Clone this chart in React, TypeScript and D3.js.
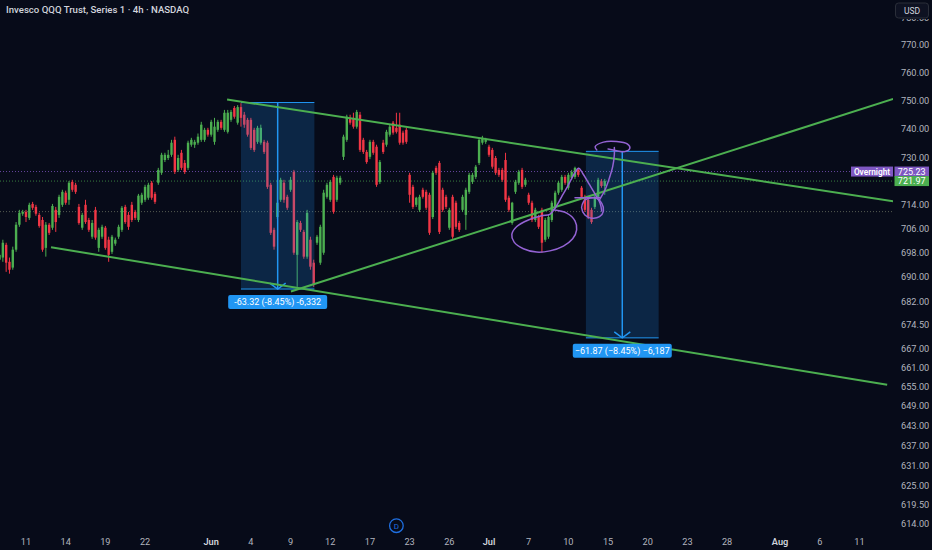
import React from 'react';
import * as d3 from 'd3';

const W = 932;
const H = 550;
const PLOT_R = 893;
const BG = '#070b19';

const title = 'Invesco QQQ Trust, Series 1 · 4h · NASDAQ';

// 4h bars (extended hours, 4 bars per trading day), first bar = May 7 2026 04:00
const firstBarDay = -2; // trading-day index relative to May 11
const barsPerDay = 4;

// [open, high, low, close]
const bars: [number, number, number, number][] = [
  [695.6, 697.9, 694.9, 697.2], [696.3, 702.2, 694.9, 701.2], [700.5, 701.2, 691.6, 694.6], [694.9, 696.3, 691.0, 692.3],
  [693.0, 699.9, 692.3, 698.9], [698.9, 708.1, 698.2, 707.2], [707.2, 712.2, 706.5, 711.2], [710.9, 712.2, 710.2, 711.5],
  [711.5, 712.2, 708.1, 709.8], [709.5, 714.6, 708.8, 713.9], [714.2, 714.9, 712.2, 712.9], [713.2, 713.9, 710.2, 710.9],
  [710.5, 711.2, 706.2, 706.8], [708.8, 709.8, 698.2, 698.9], [699.5, 708.1, 696.6, 707.2], [707.2, 707.8, 703.8, 704.5],
  [706.2, 714.2, 705.5, 713.5], [712.2, 713.2, 704.8, 708.1], [710.5, 717.3, 709.5, 716.6], [713.9, 719.0, 713.2, 718.3],
  [718.0, 718.7, 713.9, 714.6], [715.6, 722.0, 713.9, 721.4], [721.7, 722.4, 718.3, 719.0], [720.7, 721.4, 717.6, 718.3],
  [713.2, 714.2, 707.2, 707.8], [706.2, 711.2, 705.5, 710.5], [713.9, 715.6, 707.5, 708.1], [708.8, 709.5, 704.8, 705.5],
  [703.2, 708.8, 702.5, 707.8], [712.2, 713.2, 702.2, 702.9], [699.5, 706.2, 698.2, 705.5], [703.2, 707.2, 702.5, 706.5],
  [706.2, 706.8, 698.9, 699.5], [702.2, 703.2, 694.9, 697.2], [698.2, 703.8, 697.5, 703.2], [700.9, 702.9, 700.2, 702.2],
  [703.2, 707.2, 702.5, 706.5], [705.5, 713.5, 704.8, 712.9], [713.2, 713.9, 707.5, 708.1], [710.5, 711.5, 705.5, 706.5],
  [713.9, 714.9, 708.1, 708.8], [711.5, 712.2, 708.8, 709.5], [708.8, 717.6, 708.1, 717.0], [714.6, 718.0, 713.9, 717.3],
  [715.6, 720.7, 714.9, 720.0], [716.3, 721.4, 715.6, 720.7], [721.4, 722.0, 715.6, 716.3], [717.6, 718.3, 714.2, 714.9],
  [721.4, 726.5, 720.7, 725.8], [724.8, 731.7, 724.1, 731.0], [729.2, 731.7, 728.5, 731.0], [729.9, 732.7, 729.2, 731.0],
  [731.0, 736.2, 730.3, 735.2], [736.2, 737.3, 724.4, 725.1], [725.8, 731.0, 725.1, 729.9], [731.7, 732.7, 725.8, 726.5],
  [728.2, 729.2, 724.4, 725.1], [726.5, 735.9, 725.8, 735.2], [734.5, 736.9, 733.8, 736.2], [734.5, 736.2, 733.4, 735.5],
  [735.2, 738.4, 734.5, 737.3], [736.2, 742.5, 735.5, 741.5], [736.2, 740.4, 735.5, 739.7], [739.7, 740.4, 737.3, 738.0],
  [738.0, 743.2, 737.3, 742.5], [735.5, 743.9, 734.5, 740.8], [739.7, 743.2, 739.0, 742.5], [742.5, 743.2, 739.7, 740.4],
  [739.7, 746.7, 739.0, 745.7], [739.0, 746.7, 738.4, 745.7], [743.2, 746.7, 742.5, 746.0], [747.4, 748.1, 743.6, 744.3],
  [742.2, 748.4, 741.5, 747.7], [747.7, 749.1, 740.8, 743.9], [745.0, 746.0, 740.4, 741.5], [743.2, 743.9, 737.3, 738.0],
  [743.2, 743.9, 732.7, 733.4], [739.7, 740.4, 732.0, 732.7], [735.5, 741.1, 734.8, 740.4], [735.2, 741.5, 734.5, 740.4],
  [735.5, 736.2, 731.3, 732.0], [735.2, 735.9, 719.3, 720.0], [720.7, 721.4, 703.8, 704.5], [705.5, 706.2, 698.9, 699.9],
  [709.8, 722.4, 709.1, 714.6], [715.6, 723.1, 714.9, 722.4], [721.4, 722.4, 714.6, 715.6], [716.6, 717.3, 712.2, 712.9],
  [719.0, 723.4, 718.3, 722.4], [725.1, 725.8, 697.2, 697.9], [697.2, 708.8, 686.7, 708.1], [707.8, 708.5, 704.8, 705.5],
  [704.8, 705.5, 695.9, 696.6], [696.6, 712.2, 695.9, 711.2], [702.2, 703.2, 692.3, 693.3], [694.6, 695.6, 686.7, 687.3],
  [701.2, 703.8, 700.5, 703.2], [694.6, 707.2, 693.9, 706.5], [697.9, 719.0, 697.2, 718.0], [716.6, 721.4, 716.0, 720.7],
  [715.6, 722.4, 714.9, 721.7], [723.4, 724.1, 710.9, 711.5], [715.6, 723.8, 714.9, 723.1], [721.4, 723.8, 720.7, 723.1],
  [730.3, 738.0, 729.2, 737.3], [736.2, 745.0, 735.5, 744.3], [743.9, 745.0, 741.5, 742.2], [743.9, 745.7, 740.1, 740.8],
  [740.8, 746.7, 740.1, 746.0], [745.0, 746.0, 732.0, 732.7], [736.2, 736.9, 731.3, 732.0], [732.0, 732.7, 727.9, 728.5],
  [730.3, 736.2, 729.5, 735.5], [735.5, 736.2, 731.0, 731.7], [733.8, 734.5, 720.0, 720.7], [721.7, 729.2, 721.0, 728.5],
  [735.2, 736.2, 731.3, 732.0], [734.5, 739.7, 733.8, 739.0], [738.0, 741.5, 737.3, 740.8], [742.2, 742.8, 738.0, 738.7],
  [740.4, 745.7, 738.4, 739.0], [741.5, 745.7, 734.5, 735.2], [738.7, 739.4, 734.5, 735.2], [739.7, 740.4, 734.8, 735.5],
  [724.1, 724.8, 714.6, 717.3], [720.0, 720.7, 712.5, 713.2], [713.9, 716.6, 713.2, 716.3], [712.2, 717.3, 711.5, 716.6],
  [719.0, 719.7, 716.0, 716.6], [718.3, 719.0, 712.2, 712.9], [717.3, 718.0, 703.8, 704.5], [709.8, 725.5, 709.1, 724.8],
  [726.5, 727.2, 724.1, 724.8], [728.2, 728.9, 704.1, 704.8], [719.0, 719.7, 711.5, 712.2], [716.6, 717.3, 712.5, 713.2],
  [706.2, 712.9, 705.5, 712.2], [716.6, 717.3, 702.5, 703.2], [714.6, 715.3, 705.8, 706.5], [707.8, 708.5, 704.8, 705.5],
  [712.2, 717.3, 711.5, 716.6], [710.5, 719.7, 705.5, 719.0], [718.3, 724.8, 717.6, 724.1], [721.7, 724.8, 721.0, 724.1],
  [723.4, 727.5, 722.7, 726.9], [728.2, 736.9, 727.5, 736.2], [735.2, 737.6, 734.5, 736.9], [735.5, 736.9, 734.8, 736.2],
  [733.8, 734.5, 730.3, 731.0], [732.7, 733.4, 726.2, 726.9], [729.9, 730.6, 724.1, 724.8], [725.8, 726.5, 723.4, 724.1],
  [725.8, 726.5, 721.7, 722.4], [729.2, 731.7, 714.9, 715.6], [716.3, 717.0, 711.5, 712.2], [707.8, 714.9, 707.2, 714.6],
  [718.3, 722.4, 717.6, 721.7], [721.4, 725.8, 720.7, 725.1], [725.8, 726.5, 719.3, 720.0], [720.7, 723.1, 720.0, 722.4],
  [717.3, 718.0, 713.9, 714.6], [714.6, 715.3, 708.1, 708.8], [708.8, 712.9, 708.1, 712.2], [709.8, 710.5, 705.8, 706.5],
  [712.2, 712.9, 697.9, 701.2], [702.2, 709.5, 701.5, 708.8], [703.2, 710.5, 702.5, 709.8], [708.8, 715.3, 708.1, 714.6],
  [713.2, 718.7, 712.5, 718.0], [718.0, 722.0, 717.3, 721.4], [719.0, 724.1, 718.3, 723.4], [723.4, 724.1, 720.7, 721.4],
  [719.7, 724.8, 719.0, 724.1], [723.1, 725.8, 722.4, 725.1], [723.4, 726.9, 722.7, 726.5], [725.8, 726.5, 723.4, 724.1],
  [719.7, 720.3, 716.0, 716.6], [716.6, 717.3, 711.5, 712.2], [715.6, 716.3, 709.1, 709.8], [712.2, 712.9, 707.5, 708.1],
  [713.2, 717.3, 712.5, 716.6], [716.6, 723.1, 716.0, 722.4], [721.9, 722.7, 719.7, 720.3], [720.3, 722.7, 717.3, 721.97],
];

// x-axis tick labels and their trading-day index (May 11 2026 = 0)
const xTickLabels = ['11', '14', '19', '22', 'Jun', '4', '9', '12', '17', '23', '26', 'Jul', '7', '10', '15', '20', '23', '28', 'Aug', '6', '11'];
const xTickDays = [0, 3, 6, 9, 14, 17, 20, 23, 26, 29, 32, 35, 38, 41, 44, 47, 50, 53, 57, 60, 63];
const monthLabels = ['Jun', 'Jul', 'Aug'];

// price axis ticks (log scale)
const yTicks = [780, 770, 760, 750, 740, 730, 714, 706, 698, 690, 682, 674.5, 667, 661, 655, 649, 643, 637, 631, 625, 619.5, 614];

const overnightPrice = 725.23;
const lastPrice = 721.97;
const refPrice = 711.6;
const dividendDay = 28;

// trend lines: [barIndex, price] endpoints
const trendLines: [number, number][][] = [
  [[68.8, 750.4], [270.2, 715.1]],
  [[88.1, 685.2], [270.2, 750.6]],
  [[15.56, 699.7], [268.4, 655.6]],
];

// price-range measurement boxes
const measureStart = [73, 177.3];
const measureEnd = [95.2, 199.3];
const measureTop = [749.32, 732.2];
const measureChange = [-63.32, -61.87];
const measureLabels = ['-63.32 (-8.45%) -6,332', '\u221261.87 (\u22128.45%) \u22126,187'];

// hand-drawn brush strokes: [barIndex, price]
const brushStrokes: [number, number][][] = [
  [[167.4, 712.2], [171.5, 711.1], [174.0, 708.5], [174.5, 705.5], [173.3, 702.5], [170.5, 700.1], [166.4, 698.5],
   [162.4, 698.1], [158.4, 699.2], [155.6, 701.4], [154.9, 704.0], [156.4, 706.6], [159.9, 708.8], [163.9, 710.2],
   [166.4, 710.7], [168.0, 712.8], [170.0, 716.7], [172.0, 720.7], [173.7, 724.3], [175.1, 726.4], [176.5, 724.3],
   [178.3, 720.9], [180.1, 717.5], [181.6, 714.4], [182.1, 711.8]],
  [[177.0, 715.6], [180.1, 716.3], [182.1, 714.4], [182.6, 711.8], [181.4, 709.9], [179.1, 709.4], [177.0, 710.5],
   [176.0, 713.0], [176.7, 715.2]],
  [[181.4, 715.6], [183.1, 719.0], [184.4, 723.0], [185.4, 726.9], [185.9, 731.0], [185.9, 733.5]],
  [[180.6, 732.7], [180.1, 733.8], [182.6, 735.4], [186.6, 735.6], [189.8, 734.8], [190.6, 733.3], [189.1, 732.1],
   [186.6, 732.4], [184.0, 733.0]],
  [[174.0, 716.3], [181.6, 716.3]],
];

const UP = '#4caf50';
const DOWN = '#f23645';
const LINE_GREEN = '#4caf50';
const PURPLE = '#7e57c2';
const BRUSH = '#9463d4';
const BLUE = '#2196f3';
const AXIS_TEXT = '#b2b5be';
const FONT = 'Roboto, "Noto Sans", "DejaVu Sans", sans-serif';

export default function App() {
  const x = d3.scaleLinear().domain([8, 260]).range([26, 859.4]);
  const y = d3.scaleLog().domain([614, 770]).range([523.3, 45.0]);
  const dayX = (d: number) => x((d - firstBarDay) * barsPerDay);
  const brushLine = d3
    .line<[number, number]>()
    .x((p) => x(p[0]))
    .y((p) => y(p[1]))
    .curve(d3.curveCatmullRom.alpha(0.5));

  const bodyW = 2.4;

  return (
    <div style={{ position: 'fixed', left: 0, top: 0, width: W, height: H, background: BG }}>
      <svg width={W} height={H} style={{ display: 'block', fontFamily: FONT }}>
        <rect x={0} y={0} width={W} height={H} fill={BG} />
        <defs>
          <clipPath id="plotClip">
            <rect x={0} y={0} width={PLOT_R} height={515} />
          </clipPath>
          <clipPath id="axisClip">
            <rect x={PLOT_R} y={19} width={W - PLOT_R} height={515} />
          </clipPath>
        </defs>

        <g clipPath="url(#plotClip)">
          {/* reference dotted lines */}
          <line x1={0} x2={851} y1={y(overnightPrice)} y2={y(overnightPrice)} stroke={PURPLE} strokeWidth={1} strokeDasharray="1 2" opacity={0.8} />
          <line x1={0} x2={PLOT_R} y1={y(lastPrice)} y2={y(lastPrice)} stroke={UP} strokeWidth={1} strokeDasharray="1 2" opacity={0.7} />
          <line x1={0} x2={PLOT_R} y1={y(refPrice)} y2={y(refPrice)} stroke="#6b7060" strokeWidth={1} strokeDasharray="1 2" opacity={0.8} />

          {/* candles */}
          {bars.map((b, i) => {
            const [o, h, l, c] = b;
            const up = c >= o;
            const col = up ? UP : DOWN;
            const cx = x(i);
            const top = y(Math.max(o, c));
            const bot = y(Math.min(o, c));
            return (
              <g key={i}>
                <line x1={cx} x2={cx} y1={y(h)} y2={y(l)} stroke={col} strokeWidth={1} />
                <rect x={cx - bodyW / 2} y={top} width={bodyW} height={Math.max(1, bot - top)} fill={col} />
              </g>
            );
          })}

          {/* measurement boxes */}
          {measureStart.map((s, k) => {
            const x0 = x(s);
            const x1 = x(measureEnd[k]);
            const yT = y(measureTop[k]);
            const yB = y(measureTop[k] + measureChange[k]);
            const cx = (x0 + x1) / 2;
            return (
              <g key={'m' + k}>
                <rect x={x0} y={yT} width={x1 - x0} height={yB - yT} fill={BLUE} fillOpacity={0.2} />
                <line x1={x0} x2={x1} y1={yT} y2={yT} stroke={BLUE} strokeWidth={1} />
                <line x1={x0} x2={x1} y1={yB} y2={yB} stroke={BLUE} strokeWidth={1} />
                <line x1={cx} x2={cx} y1={yT} y2={yB} stroke={BLUE} strokeWidth={1.5} />
                <polyline points={`${cx - 8},${yB - 6} ${cx},${yB} ${cx + 8},${yB - 6}`} fill="none" stroke={BLUE} strokeWidth={1.5} />
              </g>
            );
          })}

          {/* trend lines */}
          {trendLines.map((ln, k) => (
            <line key={'t' + k} x1={x(ln[0][0])} y1={y(ln[0][1])} x2={x(ln[1][0])} y2={y(ln[1][1])} stroke={LINE_GREEN} strokeWidth={2} />
          ))}

          {/* brush strokes */}
          {brushStrokes.map((s, k) => (
            <path key={'b' + k} d={brushLine(s) || ''} fill="none" stroke={BRUSH} strokeWidth={1.5} strokeLinecap="round" strokeLinejoin="round" />
          ))}
        </g>

        {/* measurement labels */}
        {measureStart.map((s, k) => {
          const x0 = x(s);
          const x1 = x(measureEnd[k]);
          const cx = (x0 + x1) / 2;
          const yB = y(measureTop[k] + measureChange[k]);
          return (
            <g key={'ml' + k}>
              <rect x={cx - 49.5} y={yB + 6} width={99} height={14} rx={2} fill={BLUE} />
              <text x={cx} y={yB + 16.3} textAnchor="middle" fontSize={9} fill="#ffffff">{measureLabels[k]}</text>
            </g>
          );
        })}

        {/* title */}
        <text x={6} y={12.5} fontSize={9.6} fontWeight={500} fill="#d1d4dc">{title}</text>

        {/* price axis (top label partly hidden under the currency button) */}
        <g clipPath="url(#axisClip)">
          {yTicks.map((t) => (
            <text key={'y' + t} x={901} y={y(t) + 3.3} fontSize={9.2} fill={AXIS_TEXT}>{t.toFixed(2)}</text>
          ))}
        </g>

        {/* USD button */}
        <rect x={895.5} y={3} width={33} height={15} rx={3} fill="#0e1222" stroke="#2a2e39" strokeWidth={1} />
        <text x={912} y={13.5} textAnchor="middle" fontSize={8.5} fill="#d1d4dc">USD</text>

        {/* price labels */}
        <rect x={851} y={y(overnightPrice) - 5} width={42} height={10} fill={PURPLE} />
        <text x={872} y={y(overnightPrice) + 3.2} textAnchor="middle" fontSize={8.3} fontWeight={600} fill="#ffffff">Overnight</text>
        <rect x={894.5} y={y(overnightPrice) - 5} width={34.5} height={10} fill={PURPLE} />
        <text x={911.7} y={y(overnightPrice) + 3.3} textAnchor="middle" fontSize={9} fill="#ffffff">{overnightPrice.toFixed(2)}</text>
        <rect x={894.5} y={y(lastPrice) - 5} width={34.5} height={10} fill={UP} />
        <text x={911.7} y={y(lastPrice) + 3.3} textAnchor="middle" fontSize={9} fill="#ffffff">{lastPrice.toFixed(2)}</text>

        {/* dividend marker */}
        <circle cx={dayX(dividendDay)} cy={525.7} r={6.8} fill={BG} stroke="#1f6fe0" strokeWidth={1.3} />
        <text x={dayX(dividendDay)} y={528.6} textAnchor="middle" fontSize={8} fill="#1f6fe0">D</text>

        {/* time axis */}
        {xTickLabels.map((lab, k) => {
          const isMonth = monthLabels.includes(lab);
          return (
            <text key={'x' + k} x={dayX(xTickDays[k])} y={545} textAnchor="middle" fontSize={9.2}
              fontWeight={isMonth ? 600 : 400} fill={isMonth ? '#d1d4dc' : AXIS_TEXT}>{lab}</text>
          );
        })}
      </svg>
    </div>
  );
}
